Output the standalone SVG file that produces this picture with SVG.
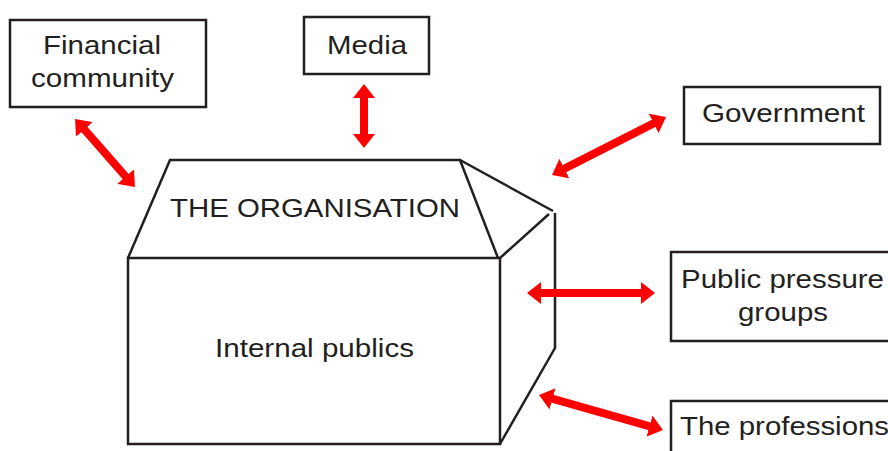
<svg xmlns="http://www.w3.org/2000/svg" width="888" height="451" viewBox="0 0 888 451">
<defs>
<style>
.box{fill:#fff;stroke:#231f20;stroke-width:2.5}
.edge{fill:none;stroke:#231f20;stroke-width:2.5;stroke-linejoin:miter}
.t{font-family:"Liberation Sans",Arial,sans-serif;font-size:26px;fill:#231f20;text-anchor:middle}
.arr{stroke:#ff0000;stroke-width:8;fill:none;marker-start:url(#head);marker-end:url(#head)}
</style>
<marker id="head" viewBox="0 0 14 22" markerWidth="14" markerHeight="22" refX="5" refY="11" markerUnits="userSpaceOnUse" orient="auto-start-reverse">
<path d="M0,0 L14,11 L0,22 z" fill="#ff0000"/>
</marker>
</defs>
<rect width="888" height="451" fill="#fff"/>
<g id="organisation">
<path class="edge" d="M128,258 L170,160 L460,160 L498,258"/>
<path class="edge" d="M460,160 L553,211"/>
<path class="edge" d="M500,258 L549,214"/>
<path class="edge" d="M555,213 L555,348 L500,444"/>
<rect class="box" x="128" y="258" width="372" height="186"/>
<text class="t" x="315" y="217" textLength="290" lengthAdjust="spacingAndGlyphs">THE ORGANISATION</text>
<text class="t" x="314.5" y="357" textLength="199" lengthAdjust="spacingAndGlyphs">Internal publics</text>
</g>
<g id="financial">
<rect class="box" x="10" y="20" width="196" height="87"/>
<text class="t" x="102" y="54" textLength="118" lengthAdjust="spacingAndGlyphs">Financial</text>
<text class="t" x="102.5" y="87" textLength="143" lengthAdjust="spacingAndGlyphs">community</text>
</g>
<g id="media">
<rect class="box" x="304" y="17" width="125" height="57"/>
<text class="t" x="367" y="54" textLength="80" lengthAdjust="spacingAndGlyphs">Media</text>
</g>
<g id="government">
<rect class="box" x="684" y="87" width="196" height="57"/>
<text class="t" x="783.5" y="122" textLength="163" lengthAdjust="spacingAndGlyphs">Government</text>
</g>
<g id="pressure">
<rect class="box" x="671" y="252" width="225" height="89"/>
<text class="t" x="782.5" y="288" textLength="203" lengthAdjust="spacingAndGlyphs">Public pressure</text>
<text class="t" x="783" y="321" textLength="90" lengthAdjust="spacingAndGlyphs">groups</text>
</g>
<g id="professions">
<rect class="box" x="671" y="401" width="225" height="60"/>
<text class="t" x="784.5" y="435" textLength="209" lengthAdjust="spacingAndGlyphs">The professions</text>
</g>
<g id="connectors">
<line class="arr" x1="81" y1="125.7" x2="129" y2="180.3"/>
<line class="arr" x1="364" y1="93" x2="364" y2="139"/>
<line class="arr" x1="560" y1="170.9" x2="658" y2="121.1"/>
<line class="arr" x1="536" y1="293" x2="646" y2="293"/>
<line class="arr" x1="547.7" y1="397.4" x2="654.3" y2="427.6"/>
</g>
</svg>
